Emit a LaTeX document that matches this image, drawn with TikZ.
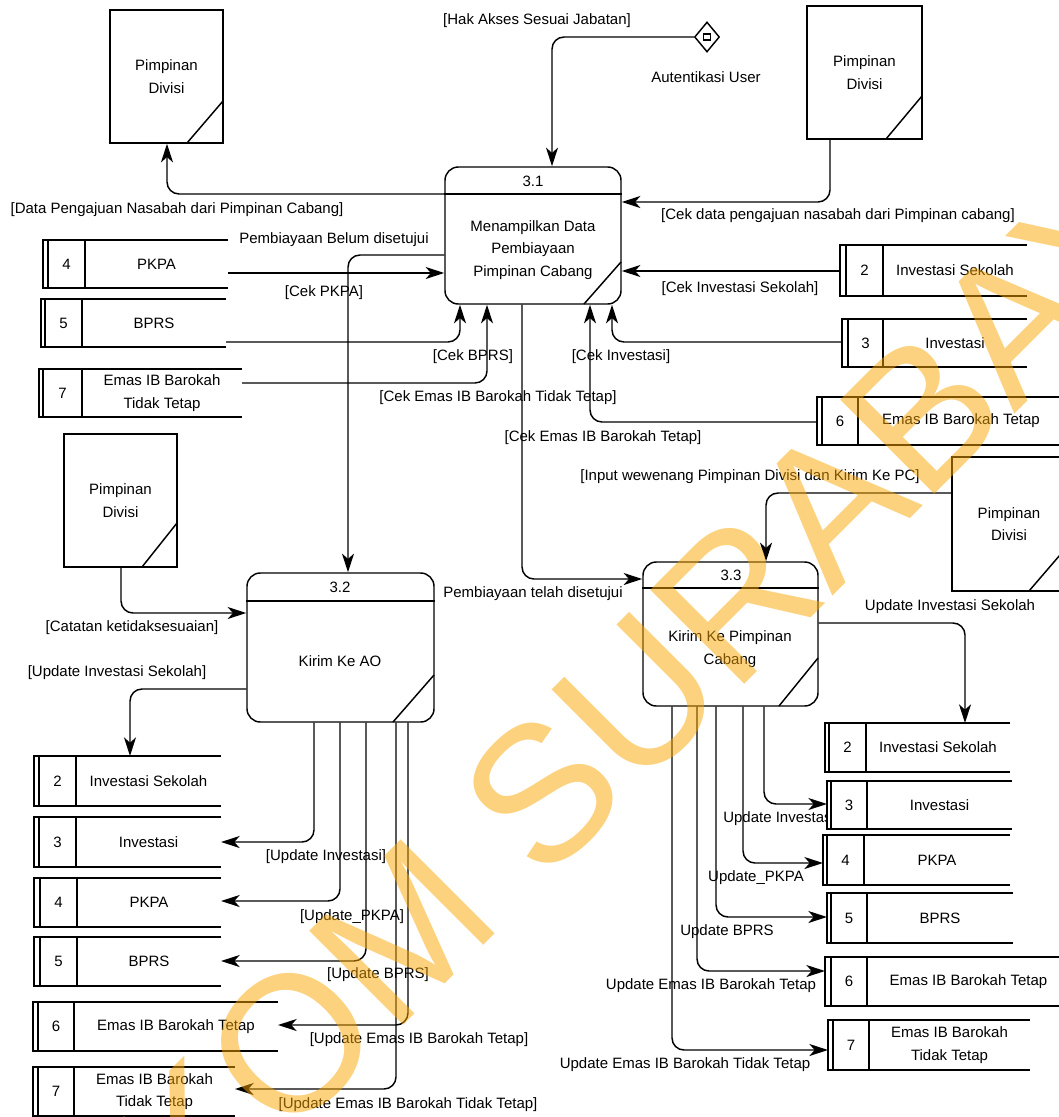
\documentclass[tikz,border=0pt]{standalone}
\usepackage{fontspec}
\setmainfont{Liberation Sans}
\usetikzlibrary{arrows.meta,shapes.geometric}
\definecolor{wmark}{RGB}{250,165,0}

\tikzset{
  base/.style={line width=1.1pt},
  txt/.style={font=\fontsize{11.25}{17}\selectfont, inner sep=0pt, align=center},
  procbox/.style={draw, base, rounded corners=10pt, inner sep=0pt},
  entity/.style={draw, base, inner sep=0pt, txt},
  storenode/.style={fill=white, inner sep=0pt, outer sep=0pt},
  storeline/.style={base},
  flow/.style={draw, base, rounded corners=9pt, -{Stealth[length=14pt,width=9pt,inset=4pt]}},
}

% data store: name, left, inner, divider, top, bottom, right, number, title
\newcommand{\dstore}[9]{%
  \node[storenode, minimum width={(#7-#2)*0.75pt}, minimum height={(#6-#5)*0.75pt}] (#1) at ({(#2+#7)/2},{(#5+#6)/2}) {};
  \draw[storeline] (#7,#5) -- (#2,#5) -- (#2,#6) -- (#7,#6);
  \draw[storeline] (#3,#5) -- (#3,#6);
  \draw[storeline] (#4,#5) -- (#4,#6);
  \node[txt] (#1n) at ({(#3+#4)/2},{(#5+#6)/2}) {#8};
  \node[txt] (#1t) at ({(#4+#7)/2},{(#5+#6)/2}) {#9};
}

\begin{document}
\begin{tikzpicture}[x=0.75pt,y=-0.75pt]
\useasboundingbox (0,0) rectangle (1059,1117);
\clip (0,0) rectangle (1059,1117);

% flow labels (drawn first so the stores can overlap them)
\node[txt] (lHak) at (537,21) {[Hak Akses Sesuai Jabatan]};
\node[txt] (lAut) at (706,77) {Autentikasi User};
\node[txt] (lDat) at (177,210) {[Data Pengajuan Nasabah dari Pimpinan Cabang]};
\node[txt] (lCekd) at (838,216) {[Cek data pengajuan nasabah dari Pimpinan cabang]};
\node[txt] (lBel) at (334,240) {Pembiayaan Belum disetujui};
\node[txt] (lPkpa) at (324,293) {[Cek PKPA]};
\node[txt] (lBprs) at (473,357) {[Cek BPRS]};
\node[txt] (lTdk) at (498,398) {[Cek Emas IB Barokah Tidak Tetap]};
\node[txt] (lInv) at (621,357) {[Cek Investasi]};
\node[txt] (lTtp) at (603,438) {[Cek Emas IB Barokah Tetap]};
\node[txt] (lSek) at (740,289) {[Cek Investasi Sekolah]};
\node[txt] (lInp) at (750,477) {[Input wewenang Pimpinan Divisi dan Kirim Ke PC]};
\node[txt] (lTel) at (533,594) {Pembiayaan telah disetujui};
\node[txt] (lUisR) at (950,607) {Update Investasi Sekolah};
\node[txt] (lCat) at (132,628) {[Catatan ketidaksesuaian]};
\node[txt] (lUisL) at (117,673) {[Update Investasi Sekolah]};
\node[txt] (lUiL) at (326,857) {[Update Investasi]};
\node[txt] (lUpL) at (352,917) {[Update\_PKPA]};
\node[txt] (lUbL) at (378,975) {[Update BPRS]};
\node[txt] (lUtL) at (419,1040) {[Update Emas IB Barokah Tetap]};
\node[txt] (lUtdL) at (408,1105) {[Update Emas IB Barokah Tidak Tetap]};
\node[txt, anchor=west] (lUiR) at (723,819) {Update Investasi};
\node[txt] (lUpR) at (756,878) {Update\_PKPA};
\node[txt] (lUbR) at (727,932) {Update BPRS};
\node[txt] (lUtR) at (711,986) {Update Emas IB Barokah Tetap};
\node[txt] (lUtdR) at (685,1065) {Update Emas IB Barokah Tidak Tetap};

% external entities
\node[entity, minimum width=84.75pt, minimum height=99.75pt] (e1) at (166.5,76.5) {Pimpinan\\Divisi};
\draw[base] (187,143) -- (223,101);
\node[entity, minimum width=86.25pt, minimum height=99.75pt] (e2) at (864.5,72.5) {Pimpinan\\Divisi};
\draw[base] (886,139) -- (922,96);
\node[entity, minimum width=84.75pt, minimum height=99.75pt] (e3) at (120.5,500.5) {Pimpinan\\Divisi};
\draw[base] (142,567) -- (177,523);
\node[entity, minimum width=85.5pt, minimum height=100.5pt] (e4) at (1009,524) {Pimpinan\\Divisi};
\draw[base] (1029,591) -- (1066,548);

% authentication
\node[diamond, draw, base, inner sep=0pt, minimum width=18.75pt, minimum height=22.5pt] (auth) at (707,37) {};
\draw[line width=0.9pt] (703.5,34) rectangle (710.5,40);

% processes
\node[procbox, minimum width=132pt, minimum height=102.75pt] (p31) at (533,235.5) {};
\draw[base] (p31.west |- 0,194) -- (p31.east |- 0,194);
\draw[base] (584,304) -- (621,262);
\node[txt] (p31n) at (533,181) {3.1};
\node[txt] (p31t) at (533,250) {Menampilkan Data\\Pembiayaan\\Pimpinan Cabang};

\node[procbox, minimum width=140.25pt, minimum height=111.75pt] (p32) at (340.5,647.5) {};
\draw[base] (p32.west |- 0,601) -- (p32.east |- 0,601);
\draw[base] (393,722) -- (434,675);
\node[txt] (p32n) at (340,587) {3.2};
\node[txt] (p32t) at (340,661) {Kirim Ke AO};

\node[procbox, minimum width=131.25pt, minimum height=108pt] (p33) at (730.5,634) {};
\draw[base] (p33.west |- 0,588) -- (p33.east |- 0,588);
\draw[base] (779,706) -- (818,658);
\node[txt] (p33n) at (731,575) {3.3};
\node[txt] (p33t) at (730,649) {Kirim Ke Pimpinan\\Cabang};

% data stores
\dstore{sA4}{43}{48}{85}{240}{288}{228}{4}{PKPA}
\dstore{sA5}{41}{45}{82}{299}{347}{226}{5}{BPRS}
\dstore{sA7}{39}{43}{82}{369}{417}{242}{7}{Emas IB Barokah\\Tidak Tetap}

\dstore{sB2}{840}{846}{883}{245}{296}{1027}{2}{Investasi Sekolah}
\dstore{sB3}{842}{848}{883}{319}{367}{1027}{3}{Investasi}
\dstore{sB6}{817}{822}{858}{397}{445}{1064}{6}{Emas IB Barokah Tetap}

\dstore{sC2}{825}{829}{866}{723}{772}{1010}{2}{Investasi Sekolah}
\dstore{sC3}{827}{831}{867}{781}{829}{1012}{3}{Investasi}
\dstore{sC4}{823}{827}{864}{835}{885}{1010}{4}{PKPA}
\dstore{sC5}{827}{831}{867}{893}{943}{1013}{5}{BPRS}
\dstore{sC6}{825}{831}{867}{957}{1006}{1070}{6}{Emas IB Barokah Tetap}
\dstore{sC7}{828}{833}{869}{1020}{1070}{1030}{7}{Emas IB Barokah\\Tidak Tetap}

\dstore{sD2}{34}{39}{76}{756}{806}{221}{2}{Investasi Sekolah}
\dstore{sD3}{34}{39}{76}{817}{867}{221}{3}{Investasi}
\dstore{sD4}{34}{40}{77}{878}{927}{221}{4}{PKPA}
\dstore{sD5}{34}{40}{77}{937}{986}{221}{5}{BPRS}
\dstore{sD6}{33}{38}{74}{1002}{1051}{278}{6}{Emas IB Barokah Tetap}
\dstore{sD7}{33}{38}{74}{1067}{1116}{235}{7}{Emas IB Barokah\\Tidak Tetap}

% data flows around 3.1
\draw[flow] (auth.west) -- (552,37) -- (p31.north -| 552,0);
\draw[flow] (p31.west |- 0,194) -- (167,194) -- (e1.south -| 167,0);
\draw[flow] (e2.south -| 830,0) -- (830,202) -- (p31.east |- 0,202);
\draw[flow] (p31.west |- 0,255) -- (348,255) -- (p32.north -| 348,0);
\draw[flow] (sA4.east |- 0,273) -- (p31.west |- 0,273);
\draw[flow] (sA5.east |- 0,342) -- (460,342) -- (p31.south -| 460,0);
\draw[flow] (sA7.east |- 0,383) -- (487,383) -- (p31.south -| 487,0);
\draw[flow] (sB2.west |- 0,271) -- (p31.east |- 0,271);
\draw[flow] (sB3.west |- 0,342) -- (612,342) -- (p31.south -| 612,0);
\draw[flow] (sB6.west |- 0,422) -- (590,422) -- (p31.south -| 590,0);
\draw[flow] (p31.south -| 522,0) -- (522,579) -- (p33.west |- 0,579);

% data flows around 3.3
\draw[flow] (e4.west |- 0,493) -- (766,493) -- (p33.north -| 766,0);
\draw[flow] (p33.east |- 0,623) -- (965,623) -- (sC2.north -| 965,0);
\draw[flow] (p33.south -| 764,0) -- (764,804) -- (sC3.west |- 0,804);
\draw[flow] (p33.south -| 743,0) -- (743,863) -- (sC4.west |- 0,863);
\draw[flow] (p33.south -| 716,0) -- (716,917) -- (sC5.west |- 0,917);
\draw[flow] (p33.south -| 697,0) -- (697,971) -- (sC6.west |- 0,971);
\draw[flow] (p33.south -| 672,0) -- (672,1050) -- (sC7.west |- 0,1050);

% data flows around 3.2
\draw[flow] (e3.south -| 121,0) -- (121,613) -- (p32.west |- 0,613);
\draw[flow] (p32.west |- 0,689) -- (130,689) -- (sD2.north -| 130,0);
\draw[flow] (p32.south -| 314,0) -- (314,842) -- (sD3.east |- 0,842);
\draw[flow] (p32.south -| 340,0) -- (340,901) -- (sD4.east |- 0,901);
\draw[flow] (p32.south -| 366,0) -- (366,961) -- (sD5.east |- 0,961);
\draw[flow] (p32.south -| 408,0) -- (408,1025) -- (sD6.east |- 0,1025);
\draw[flow] (p32.south -| 396,0) -- (396,1089) -- (sD7.east |- 0,1089);

% watermark
\node[font=\fontsize{145}{145}\selectfont, text=wmark, text opacity=0.5, rotate=45, inner sep=0pt] (wm) at (578,757) {STIKOM SURABAYA};
\end{tikzpicture}
\end{document}
